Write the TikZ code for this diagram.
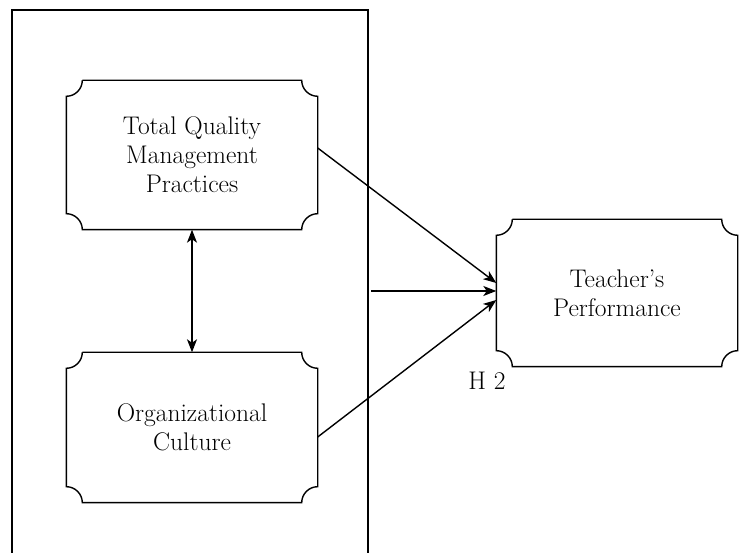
\documentclass[tikz,border=0pt]{standalone}
\usetikzlibrary{arrows.meta,calc}
\tikzset{
  qbox/.style={minimum width=250pt,minimum height=148pt,align=center,inner sep=0pt,font=\fontsize{25.5}{29}\selectfont},
  link/.style={-{Stealth[length=13pt,width=10pt,inset=3.5pt]}},
  twoway/.style={{Stealth[length=13pt,width=10pt,inset=3.5pt]}-{Stealth[length=13pt,width=10pt,inset=3.5pt]}},
}
\begin{document}
\begin{tikzpicture}[x=1pt,y=1pt,line width=1.4pt]
\useasboundingbox (0,0) rectangle (739,553);

% outer frame, open at the bottom
\draw (12,-2)--(12,543)--(368,543)--(368,-2);

\node[qbox] (tqm) at (192,398) {Total Quality\\Management\\Practices};
\node[qbox,minimum height=149pt] (oc) at (192,125.5) {Organizational\\Culture};
\node[qbox,minimum width=240pt,minimum height=146pt] (tp) at (617,260) {Teacher's\\Performance};

% outlines with cut-in corners
\foreach \b in {tqm,oc,tp}{
  \draw ($(\b.north west)+(16,0)$) -- ($(\b.north east)+(-16,0)$)
    arc[start angle=180,end angle=270,radius=16]
    -- ($(\b.south east)+(0,16)$)
    arc[start angle=90,end angle=180,radius=16]
    -- ($(\b.south west)+(16,0)$)
    arc[start angle=0,end angle=90,radius=16]
    -- ($(\b.north west)+(0,-16)$)
    arc[start angle=270,end angle=360,radius=16];
}

\draw[twoway] (tqm.south) -- (oc.north);

\coordinate (fr) at (371,262);
\draw[link] ($(tqm.east)+(0,7)$) -- ($(tp.west)+(0,10)$);
\draw[link] (fr) -- (tp.west |- fr);
\draw[link] ($(oc.east)+(0,-9.5)$) -- ($(tp.west)+(0,-7)$);

\node[font=\fontsize{25.5}{29}\selectfont] (h2) at (487,172) {H 2};
\end{tikzpicture}
\end{document}
